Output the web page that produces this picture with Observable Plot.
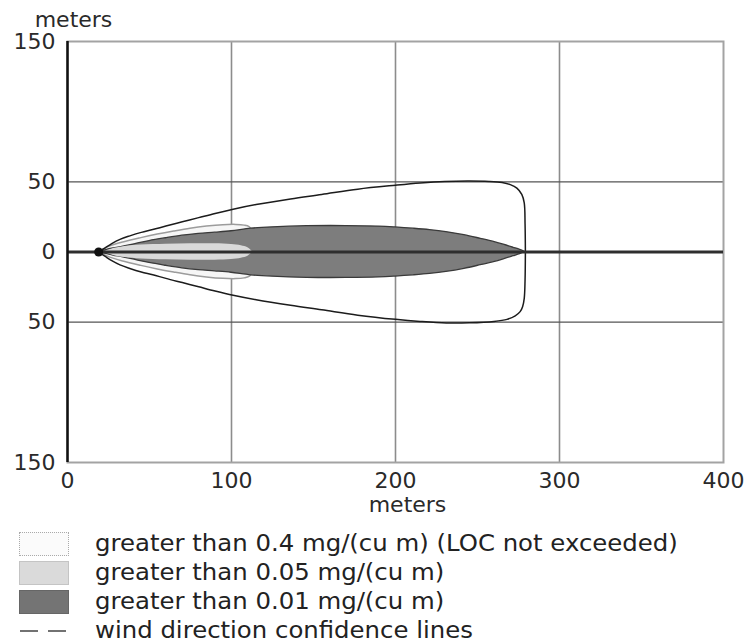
<!DOCTYPE html>
<html>
<head>
<meta charset="utf-8">
<script src="https://cdn.jsdelivr.net/npm/d3@7"></script>
<script src="https://cdn.jsdelivr.net/npm/@observablehq/plot@0.6"></script>
<style>
  body { margin: 0; background: #fff; font-family: "DejaVu Sans", Verdana, sans-serif; color: #222; overflow: hidden; }
  #chart svg { display: block; overflow: visible; }
  #legend { margin: 9px 0 0 19px; }
  .row { display: flex; align-items: center; height: 29px; font-size: 23px; white-space: nowrap; }
  .row span { line-height: 1; display: inline-block; transform: scaleX(1.06); transform-origin: left center; }
  .swatch { width: 50px; height: 24px; box-sizing: border-box; margin-right: 26px; flex: none; }
</style>
</head>
<body>
<div id="chart"></div>
<div id="legend"></div>
<script>
// Axis ticks (downwind distance and crosswind distance, meters)
const xTicks = [0, 100, 200, 300, 400];
const yTicks = [150, 50, 0, -50, -150];
const gridX = [100, 200, 300];
const gridY = [50, -50];

// Release point
const sourceX = [19];
const sourceY = [0];

// Wind direction confidence lines: upper edge, then lower edge back to the source
const confTopX = [19, 23, 27, 32, 38, 45, 52, 60, 70, 80, 90, 101, 115, 136, 155, 177, 200, 215, 230, 245, 257, 265, 270, 274, 277, 278.5, 279, 279.2];
const confTopY = [0, 3, 6, 9, 11.5, 14, 16, 18.5, 21.5, 24.5, 27.5, 30.5, 33.8, 37.8, 41, 44.8, 47.6, 49.2, 50.3, 50.6, 50.3, 49.5, 48, 45.5, 41, 35, 20, 0];
const confBottomX = [279.2, 279, 278.5, 277.5, 276, 273, 268, 260, 245, 231, 215, 200, 177, 155, 136, 115, 101, 90, 80, 70, 60, 52, 45, 38, 32, 27, 23, 19];
const confBottomY = [0, -20, -33, -39, -42.5, -45.5, -48, -49.5, -50.5, -50.6, -49.5, -48, -45, -41.2, -38, -34, -30.8, -27.8, -24.8, -21.8, -18.8, -16.2, -14.2, -11.7, -9.2, -6.2, -3.2, 0];

// Threat zone half-widths (meters either side of the downwind axis)
const zone01X = [19, 23, 28, 34, 42, 50, 60, 70, 80, 90, 100, 112, 125, 146, 170, 190, 200, 211, 221, 231, 242, 252, 260, 266, 272, 276, 279];
const zone01H = [0, 1.2, 2.5, 3.8, 5.8, 7.8, 9.8, 11.6, 12.9, 13.8, 14.8, 16.6, 17.6, 18.4, 18.5, 18.1, 17.5, 16.6, 15.6, 14.2, 12.0, 9.4, 7.2, 5.2, 3.0, 1.5, 0];
const zone04X = [19, 25, 34, 45, 55, 65, 75, 85, 95, 103, 108, 111, 113];
const zone04H = [0, 3.5, 6.8, 9.9, 12.4, 14.6, 16.6, 18.1, 19.1, 19.3, 18.8, 17.8, 15];
const zone05X = [22, 28, 35, 45, 60, 75, 90, 100, 106, 110, 113];
const zone05H = [0, 2.5, 4.0, 5.0, 5.6, 5.9, 5.8, 5.3, 4.4, 3.0, 0];

// Legend entries
const legendLabels = [
  "greater than 0.4 mg/(cu m) (LOC not exceeded)",
  "greater than 0.05 mg/(cu m)",
  "greater than 0.01 mg/(cu m)",
  "wind direction confidence lines"
];
const legendKinds = ["dotted", "light", "dark", "dash"];

const zip = (xs, ys) => xs.map((x, i) => ({x, y: ys[i]}));
const conf = zip(confTopX, confTopY).concat(zip(confBottomX, confBottomY));
const zone01 = zip(zone01X, zone01H);
const zone04 = zip(zone04X, zone04H);
const zone05 = zip(zone05X, zone05H);
const source = zip(sourceX, sourceY);

const chart = Plot.plot({
  width: 748,
  height: 520,
  marginLeft: 67,
  marginRight: 25,
  marginTop: 41,
  marginBottom: 58,
  style: {fontFamily: "DejaVu Sans, Verdana, sans-serif", fontSize: "22px", color: "#2a2a2a", background: "#fff"},
  x: {domain: [0, 400]},
  y: {domain: [-150, 150]},
  marks: [
    Plot.ruleX(gridX, {stroke: "#8c8c8c", strokeWidth: 1.6}),
    Plot.ruleY(gridY, {stroke: "#555", strokeWidth: 1.3}),
    Plot.frame({stroke: "#a3a3a3", strokeWidth: 2}),
    Plot.areaY(zone04, {x: "x", y1: d => -d.y, y2: "y", fill: "#f6f6f6", stroke: "#9c9c9c", strokeWidth: 1.5, curve: "catmull-rom"}),
    Plot.areaY(zone01, {x: "x", y1: d => -d.y, y2: "y", fill: "#7d7d7d", stroke: "#3a3a3a", strokeWidth: 1.3, curve: "catmull-rom"}),
    Plot.areaY(zone05, {x: "x", y1: d => -d.y, y2: "y", fill: "#d9d9d9", curve: "catmull-rom"}),
    Plot.line(conf, {x: "x", y: "y", stroke: "#1c1c1c", strokeWidth: 1.5, curve: "catmull-rom"}),
    Plot.ruleY([0], {stroke: "#2e2e2e", strokeWidth: 3}),
    Plot.ruleX([0], {stroke: "#111", strokeWidth: 2.5}),
    Plot.dot(source, {x: "x", y: "y", r: 4.5, fill: "#111"}),
    Plot.axisX({ticks: xTicks, tickSize: 0, tickPadding: 10, label: null}),
    Plot.axisY({ticks: yTicks, tickSize: 0, tickPadding: 12, tickFormat: d => Math.abs(d), label: null}),
    Plot.text(["meters"], {frameAnchor: "top-left", dx: 6, dy: -15, lineAnchor: "bottom", textAnchor: "middle"}),
    Plot.text(["meters"], {frameAnchor: "bottom", dx: 12, dy: 49, lineAnchor: "bottom", textAnchor: "middle"})
  ]
});
document.getElementById("chart").append(chart);

// Legend below the plot
const legend = d3.select("#legend");
legendLabels.forEach((label, i) => {
  const row = legend.append("div").attr("class", "row");
  const kind = legendKinds[i];
  if (kind === "dash") {
    const s = row.append("svg").attr("width", 50).attr("height", 24).style("margin-right", "26px").style("flex", "none");
    s.append("line").attr("x1", 1).attr("x2", 48).attr("y1", 12).attr("y2", 12)
      .attr("stroke", "#444").attr("stroke-width", 1.5).attr("stroke-dasharray", "18 10");
  } else {
    const sw = row.append("div").attr("class", "swatch");
    if (kind === "dotted") sw.style("background", "#fbfbfb").style("border", "1.5px dotted #aaa");
    if (kind === "light") sw.style("background", "#dadada").style("border", "1.5px solid #c4c4c4");
    if (kind === "dark") sw.style("background", "#747474").style("border", "1.5px solid #666");
  }
  row.append("span").text(label);
});
</script>
</body>
</html>
